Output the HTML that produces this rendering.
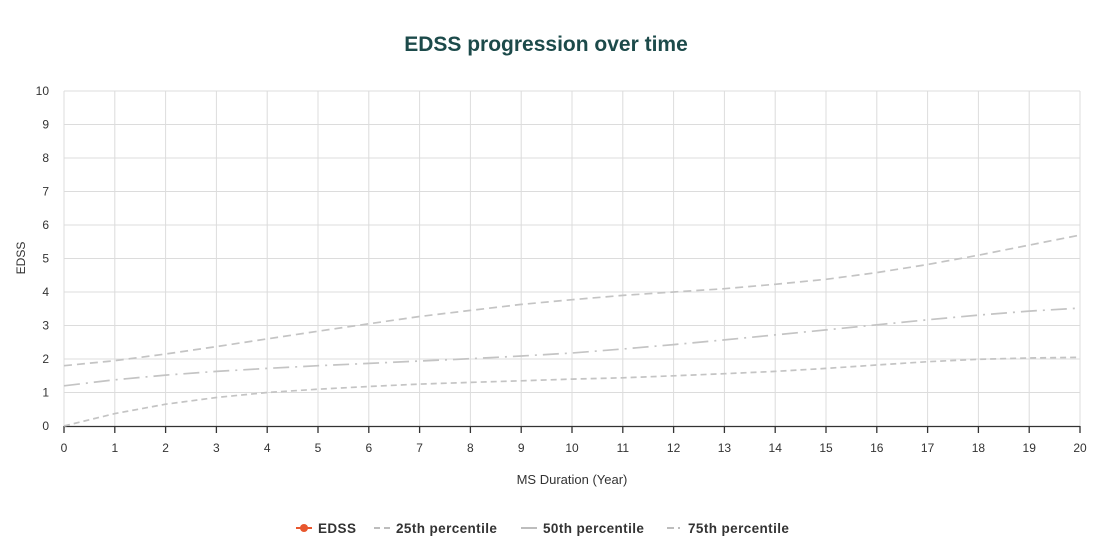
<!DOCTYPE html>
<html><head><meta charset="utf-8"><style>
body{margin:0;background:#fff;width:1112px;height:551px;overflow:hidden;font-family:"Liberation Sans",sans-serif;}
</style></head><body>
<svg width="1112" height="551" xmlns="http://www.w3.org/2000/svg" font-family="Liberation Sans, sans-serif">
<text x="546" y="51" text-anchor="middle" font-size="21" font-weight="bold" fill="#1c4a4a">EDSS progression over time</text>
<g stroke="#dcdcdc" stroke-width="1">
<line x1="64" y1="91" x2="1080" y2="91"/><line x1="64" y1="124.5" x2="1080" y2="124.5"/><line x1="64" y1="158" x2="1080" y2="158"/><line x1="64" y1="191.5" x2="1080" y2="191.5"/><line x1="64" y1="225" x2="1080" y2="225"/><line x1="64" y1="258.5" x2="1080" y2="258.5"/><line x1="64" y1="292" x2="1080" y2="292"/><line x1="64" y1="325.5" x2="1080" y2="325.5"/><line x1="64" y1="359" x2="1080" y2="359"/><line x1="64" y1="392.5" x2="1080" y2="392.5"/>
<line x1="64" y1="91" x2="64" y2="426"/><line x1="114.8" y1="91" x2="114.8" y2="426"/><line x1="165.6" y1="91" x2="165.6" y2="426"/><line x1="216.4" y1="91" x2="216.4" y2="426"/><line x1="267.2" y1="91" x2="267.2" y2="426"/><line x1="318" y1="91" x2="318" y2="426"/><line x1="368.8" y1="91" x2="368.8" y2="426"/><line x1="419.6" y1="91" x2="419.6" y2="426"/><line x1="470.4" y1="91" x2="470.4" y2="426"/><line x1="521.2" y1="91" x2="521.2" y2="426"/><line x1="572" y1="91" x2="572" y2="426"/><line x1="622.8" y1="91" x2="622.8" y2="426"/><line x1="673.6" y1="91" x2="673.6" y2="426"/><line x1="724.4" y1="91" x2="724.4" y2="426"/><line x1="775.2" y1="91" x2="775.2" y2="426"/><line x1="826" y1="91" x2="826" y2="426"/><line x1="876.8" y1="91" x2="876.8" y2="426"/><line x1="927.6" y1="91" x2="927.6" y2="426"/><line x1="978.4" y1="91" x2="978.4" y2="426"/><line x1="1029.2" y1="91" x2="1029.2" y2="426"/><line x1="1080" y1="91" x2="1080" y2="426"/>
</g>
<g stroke="#333" stroke-width="1.3">
<line x1="64" y1="426.5" x2="1080" y2="426.5"/>
<line x1="64" y1="426" x2="64" y2="433"/><line x1="114.8" y1="426" x2="114.8" y2="433"/><line x1="165.6" y1="426" x2="165.6" y2="433"/><line x1="216.4" y1="426" x2="216.4" y2="433"/><line x1="267.2" y1="426" x2="267.2" y2="433"/><line x1="318" y1="426" x2="318" y2="433"/><line x1="368.8" y1="426" x2="368.8" y2="433"/><line x1="419.6" y1="426" x2="419.6" y2="433"/><line x1="470.4" y1="426" x2="470.4" y2="433"/><line x1="521.2" y1="426" x2="521.2" y2="433"/><line x1="572" y1="426" x2="572" y2="433"/><line x1="622.8" y1="426" x2="622.8" y2="433"/><line x1="673.6" y1="426" x2="673.6" y2="433"/><line x1="724.4" y1="426" x2="724.4" y2="433"/><line x1="775.2" y1="426" x2="775.2" y2="433"/><line x1="826" y1="426" x2="826" y2="433"/><line x1="876.8" y1="426" x2="876.8" y2="433"/><line x1="927.6" y1="426" x2="927.6" y2="433"/><line x1="978.4" y1="426" x2="978.4" y2="433"/><line x1="1029.2" y1="426" x2="1029.2" y2="433"/><line x1="1080" y1="426" x2="1080" y2="433"/>
</g>
<g font-size="12" fill="#333" text-anchor="end">
<text x="49" y="95">10</text><text x="49" y="128.5">9</text><text x="49" y="162">8</text><text x="49" y="195.5">7</text><text x="49" y="229">6</text><text x="49" y="262.5">5</text><text x="49" y="296">4</text><text x="49" y="329.5">3</text><text x="49" y="363">2</text><text x="49" y="396.5">1</text><text x="49" y="430">0</text>
</g>
<g font-size="12" fill="#333" text-anchor="middle">
<text x="64" y="452">0</text><text x="114.8" y="452">1</text><text x="165.6" y="452">2</text><text x="216.4" y="452">3</text><text x="267.2" y="452">4</text><text x="318" y="452">5</text><text x="368.8" y="452">6</text><text x="419.6" y="452">7</text><text x="470.4" y="452">8</text><text x="521.2" y="452">9</text><text x="572" y="452">10</text><text x="622.8" y="452">11</text><text x="673.6" y="452">12</text><text x="724.4" y="452">13</text><text x="775.2" y="452">14</text><text x="826" y="452">15</text><text x="876.8" y="452">16</text><text x="927.6" y="452">17</text><text x="978.4" y="452">18</text><text x="1029.2" y="452">19</text><text x="1080" y="452">20</text>
</g>
<text x="572" y="484" font-size="13" fill="#333" text-anchor="middle">MS Duration (Year)</text>
<text transform="translate(25,258) rotate(-90)" font-size="12" fill="#333" text-anchor="middle">EDSS</text>
<g fill="none" stroke="#c4c4c4" stroke-width="1.7">
<polyline stroke-dasharray="8,5" points="64,365.7 114.8,360.7 165.6,354 216.4,346.6 267.2,338.9 318,331.2 368.8,323.8 419.6,316.5 470.4,310.4 521.2,304.4 572,299.7 622.8,295.4 673.6,292 724.4,288.7 775.2,284.3 826,279.3 876.8,272.6 927.6,264.5 978.4,255.2 1029.2,245.1 1080,235.1"/>
<polyline stroke-dasharray="16,6,2,6" points="64,385.8 114.8,379.8 165.6,375.1 216.4,371.4 267.2,368.4 318,365.7 368.8,363.4 419.6,361 470.4,358.7 521.2,356 572,353 622.8,349 673.6,344.6 724.4,339.9 775.2,334.9 826,329.9 876.8,324.8 927.6,319.8 978.4,315.1 1029.2,311.1 1080,308.1"/>
<polyline stroke-dasharray="6,4" points="64,426 114.8,413.6 165.6,404.2 216.4,397.5 267.2,392.5 318,389.2 368.8,386.5 419.6,384.1 470.4,382.4 521.2,380.8 572,379.1 622.8,377.8 673.6,375.8 724.4,373.7 775.2,371.4 826,368.4 876.8,365 927.6,361.7 978.4,359.3 1029.2,358 1080,357.3"/>
</g>
<g font-size="13.5" font-weight="bold" fill="#333" letter-spacing="0.4">
<line x1="296" y1="528" x2="312" y2="528" stroke="#e8572e" stroke-width="2"/><circle cx="304" cy="528" r="4" fill="#e8572e"/>
<text x="318" y="533">EDSS</text>
<line x1="374" y1="528" x2="390" y2="528" stroke="#bdbdbd" stroke-width="2" stroke-dasharray="6,4"/>
<text x="396" y="533">25th percentile</text>
<line x1="521" y1="528" x2="537" y2="528" stroke="#bdbdbd" stroke-width="2"/>
<text x="543" y="533">50th percentile</text>
<line x1="667" y1="528" x2="683" y2="528" stroke="#bdbdbd" stroke-width="2" stroke-dasharray="7,4,2,4"/>
<text x="688" y="533">75th percentile</text>
</g>
</svg>
</body></html>
